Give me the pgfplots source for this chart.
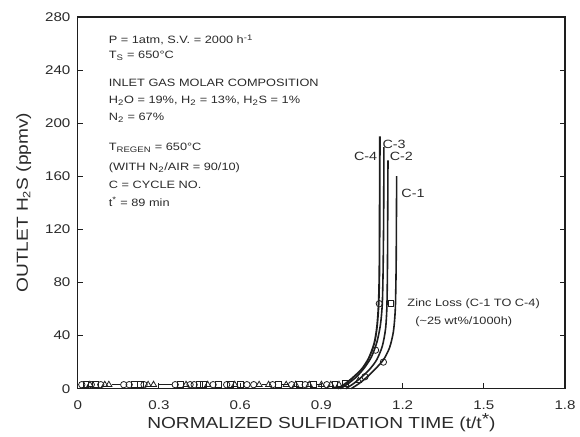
\documentclass[border=0pt]{standalone}
\usepackage{fontspec}
\setmainfont{Liberation Sans}[FakeStretch=1.2]
\usepackage{pgfplots}
\pgfplotsset{compat=1.18}
\definecolor{ink}{HTML}{1E1E1E}
\definecolor{txt}{HTML}{2A2A2A}
\begin{document}
\begin{tikzpicture}
\begin{axis}[
  at={(0pt,0pt)}, anchor=south west,
  scale only axis, width=366.75pt, height=279.75pt,
  xmin=0, xmax=1.8, ymin=0, ymax=280,
  xtick={0,0.3,0.6,0.9,1.2,1.5,1.8},
  xticklabels={0,0.3,0.6,0.9,1.2,1.5,1.8},
  ytick={0,40,80,120,160,200,240,280},
  xtick pos=left, ytick pos=both,
  tick align=inside, major tick length=4pt,
  axis line style={line width=1.1pt, ink},
  tick style={line width=0.7pt, ink},
  /pgf/number format/assume math mode=true,
  ticklabel style={font=\fontsize{9.5}{11}\selectfont, text=txt},
  xticklabel style={anchor=base, yshift=-16pt},
  yticklabel style={xshift=-2pt},
  clip=false,
  unbounded coords=jump,
]
% breakthrough curves, one for each cycle
\addplot[ink, line width=1.4pt, smooth, tension=0.45] coordinates {
  (0.96,0) (0.99,4) (1.02,9) (1.05,15) (1.075,23) (1.095,34) (1.105,46)
  (1.111,62) (1.114,85) (1.115,120) (1.116,190)};
\addplot[ink, line width=1.2pt, smooth, tension=0.45] coordinates {
  (0.97,0) (1.00,4) (1.03,9) (1.06,16) (1.085,24) (1.105,35) (1.118,48)
  (1.125,64) (1.128,90) (1.130,130) (1.131,182)};
\addplot[ink, line width=1.2pt, smooth, tension=0.45] coordinates {
  (0.99,0) (1.02,4) (1.05,9) (1.08,15) (1.105,22) (1.125,32) (1.137,45)
  (1.142,62) (1.144,90) (1.145,130) (1.146,172)};
\addplot[ink, line width=1.2pt, smooth, tension=0.45] coordinates {
  (1.01,0) (1.04,4) (1.07,9) (1.10,15) (1.13,22) (1.152,31) (1.166,43)
  (1.173,60) (1.176,90) (1.177,120) (1.178,160)};
% short connecting dashes along the baseline
\addplot[ink, line width=0.6pt] coordinates {
  (0.125,3) (0.155,3) (0.14,nan)
  (0.30,3) (0.35,3) (0.36,nan)
  (0.68,3) (0.695,3) (0.70,nan)
  (0.755,3) (0.78,3) (0.79,nan)
  (0.885,3) (0.90,3)};
% measured points
\addplot[only marks, mark=o, mark size=2.4pt, ink, line width=0.6pt] coordinates {
  (0.015,3) (0.05,3) (0.085,3) (0.17,3) (0.19,3) (0.245,3) (0.36,3)
  (0.415,3) (0.43,3) (0.50,3) (0.55,3) (0.625,3) (0.65,3) (0.72,3)
  (0.79,3) (0.84,3) (0.92,3) (1.061,9) (1.100,29) (1.129,20) (1.114,64)};
\addplot[only marks, mark=square, mark size=2.2pt, ink, line width=0.6pt] coordinates {
  (0.03,3) (0.065,3) (0.21,3) (0.23,3) (0.38,3) (0.45,3) (0.465,3)
  (0.52,3) (0.565,3) (0.60,3) (0.74,3) (0.82,3) (0.87,3) (0.95,3)
  (0.988,4) (1.157,64)};
\addplot[only marks, mark=triangle, mark size=2.6pt, ink, line width=0.6pt] coordinates {
  (0.045,3) (0.10,3) (0.115,3) (0.26,3) (0.28,3) (0.40,3) (0.48,3)
  (0.58,3) (0.67,3) (0.705,3) (0.77,3) (0.805,3) (0.855,3) (0.90,3)
  (0.935,3) (0.965,3) (1.037,6)};
% curve labels
\begin{scope}[font=\fontsize{9}{10}\selectfont, text=txt]
\node[anchor=east, inner sep=1pt] at (axis cs:1.112,175) {C-4};
\node[anchor=west, inner sep=1pt] at (axis cs:1.120,184) {C-3};
\node[anchor=west, inner sep=1pt] at (axis cs:1.147,175) {C-2};
\node[anchor=west, inner sep=1pt] at (axis cs:1.190,147) {C-1};
\end{scope}
% operating conditions
\begin{scope}[font=\fontsize{8}{9}\selectfont, text=txt, every node/.style={anchor=base west, inner sep=0pt}]
\node at (axis cs:0.114,259.8) {P = 1atm, S.V. = 2000 h\textsuperscript{-1}};
\node at (axis cs:0.114,248.5) {T\textsubscript{S} = 650°C};
\node at (axis cs:0.114,227.5) {INLET GAS MOLAR COMPOSITION};
\node at (axis cs:0.114,214.7) {H\textsubscript{2}O = 19\%, H\textsubscript{2} = 13\%, H\textsubscript{2}S = 1\%};
\node at (axis cs:0.114,202.0) {N\textsubscript{2} = 67\%};
\node at (axis cs:0.114,179.4) {T\textsubscript{REGEN} = 650°C};
\node at (axis cs:0.114,164.4) {(WITH N\textsubscript{2}/AIR = 90/10)};
\node at (axis cs:0.114,150.9) {C = CYCLE NO.};
\node at (axis cs:0.114,137.4) {t\textsuperscript{*} = 89 min};
\node at (axis cs:1.217,62) {Zinc Loss (C-1 TO C-4)};
\node at (axis cs:1.246,48) {(\textasciitilde25 wt\%/1000h)};
\end{scope}
\end{axis}
% axis titles
\node[anchor=base, font=\fontsize{12}{14}\selectfont, text=txt] at (183.4pt,-30pt)
  {NORMALIZED SULFIDATION TIME (t/t\raisebox{0.45ex}{*})};
\node[anchor=base, rotate=90, font=\fontsize{12}{14}\selectfont, text=txt] at (-37.5pt,140pt)
  {OUTLET H\textsubscript{2}S (ppmv)};
\path (-58.5pt,-35.25pt) rectangle (376.5pt,292.5pt);
\end{tikzpicture}
\end{document}
